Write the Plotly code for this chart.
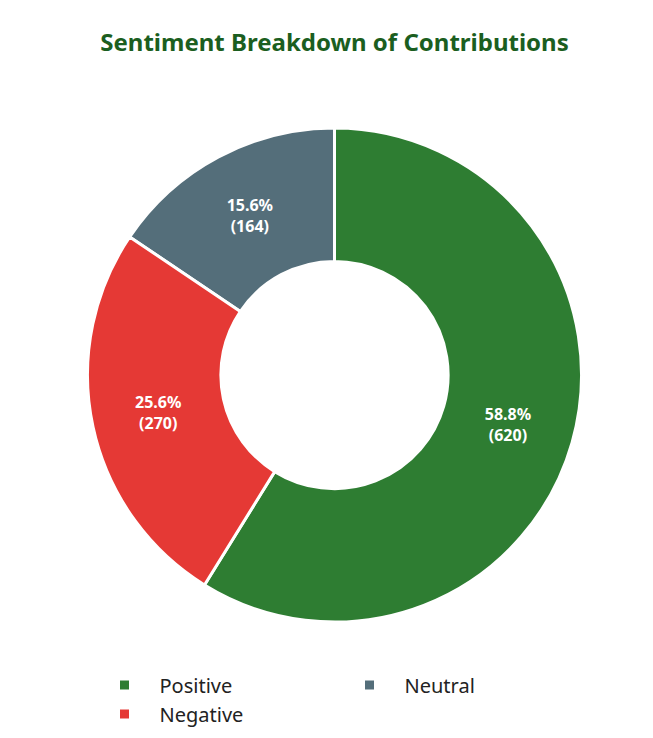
import plotly.graph_objects as go

labels = ["Positive", "Neutral", "Negative"]
values = [620, 164, 270]
colors = ["#2E7D32", "#546E7A", "#E53935"]

fig = go.Figure(go.Pie(
    labels=labels, values=values, hole=0.46,
    sort=False, direction="counterclockwise", rotation=0,
    marker=dict(colors=colors, line=dict(color="white", width=3)),
    texttemplate="<b>%{percent:.1%}<br>(%{value})</b>",
    textposition="inside", insidetextorientation="horizontal",
    textfont=dict(color="white", size=16),
))

fig.update_layout(
    width=653, height=738,
    font=dict(family="Noto Sans", size=16, color="#222222"),
    title=dict(text="<b>Sentiment Breakdown of Contributions</b>", x=0.5, y=0.965,
               font=dict(size=24, color="#1B5E20")),
    legend=dict(orientation="h", x=0.5, xanchor="center", y=-0.157, yanchor="middle",
                font=dict(size=20, color="#222222"), entrywidth=170, itemwidth=60),
    margin=dict(t=120, b=115, l=75, r=75),
    paper_bgcolor="white",
)

fig.write_html("out.html")
